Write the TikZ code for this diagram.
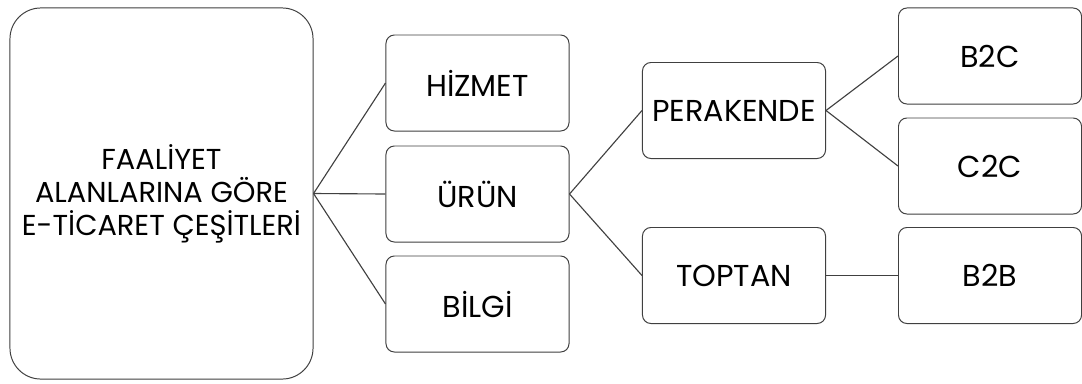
\documentclass[tikz,border=0pt]{standalone}
\definecolor{edge}{HTML}{404040}
\usepackage{fontspec}
\setmainfont{Poppins}
\usepackage{tikz}
\usetikzlibrary{calc}

\begin{document}
\begin{tikzpicture}[x=0.025cm,y=-0.025cm,
	kutu/.style={draw=edge,line width=0.7pt,rounded corners=6pt,fill=white,
		minimum width=4.575cm,minimum height=2.4cm,align=center,inner sep=2pt,
		font=\fontsize{21.5}{24}\selectfont},
	bag/.style={draw=edge,line width=0.8pt}]
	\useasboundingbox (0,0) rectangle (1082,383);
	% ana kutu
	\node[kutu,rounded corners=22pt,minimum width=7.575cm,minimum height=9.275cm,
		font=\fontsize{20.5}{23.5}\selectfont] (ana) at (161.5,193.5)
		{FAALİYET\\ALANLARINA GÖRE\\E-TİCARET ÇEŞİTLERİ};
	% ikinci sutun
	\node[kutu] (hizmet) at (477.5,83) {HİZMET};
	\node[kutu] (urun) at (477.5,194) {ÜRÜN};
	\node[kutu] (bilgi) at (477.5,304) {BİLGİ};
	% ucuncu sutun
	\node[kutu] (perakende) at (734,110.5) {PERAKENDE};
	\node[kutu] (toptan) at (734,275.5) {TOPTAN};
	% son sutun
	\node[kutu] (btoc) at (990,56) {B2C};
	\node[kutu] (ctoc) at (990,166) {C2C};
	\node[kutu] (btob) at (990,275.5) {B2B};
	%baglantilar
	\foreach \a/\b in {ana/hizmet, ana/urun, ana/bilgi, urun/perakende, urun/toptan,
		perakende/btoc, perakende/ctoc, toptan/btob}
	\draw[bag] (\a.east) -- (\b.west);
\end{tikzpicture}
\end{document}
